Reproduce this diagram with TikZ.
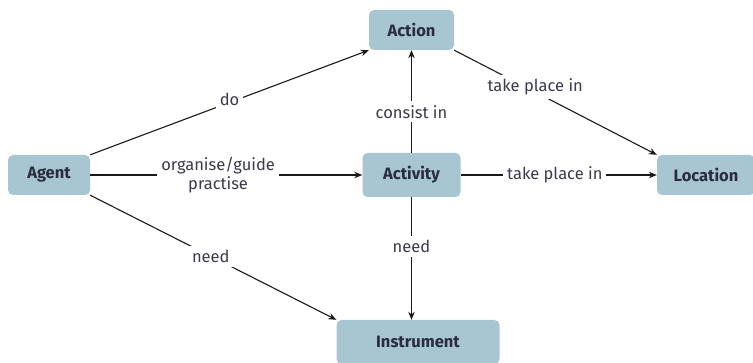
\documentclass[tikz,border=0pt]{standalone}
\usepackage{fontspec}
\setmainfont{Fira Sans}
\usetikzlibrary{arrows.meta}
\definecolor{boxfill}{HTML}{A8C5D2}
\definecolor{boxtext}{HTML}{2A2C40}
\definecolor{lbltext}{HTML}{3A3A4A}
\begin{document}
\begin{tikzpicture}[x=1pt,y=-1pt,
  concept/.style={draw=none,fill=boxfill,rounded corners=5pt,text=boxtext,
    font=\fontsize{16.5}{18}\selectfont\bfseries,inner sep=0pt},
  rel/.style={draw=black!90,line width=1.1pt,-{Stealth[length=8pt,width=6.5pt]}},
  lbl/.style={fill=white,text=lbltext,font=\fontsize{16.5}{19}\selectfont,inner sep=4pt,align=center}]
\useasboundingbox (0,0) rectangle (753,363);
\node[concept,minimum width=82pt,minimum height=40pt] (agent) at (49,175) {Agent};
\node[concept,minimum width=85pt,minimum height=40pt] (action) at (411.5,30) {Action};
\node[concept,minimum width=98pt,minimum height=44pt] (activity) at (411.5,175) {Activity};
\node[concept,minimum width=98pt,minimum height=40pt] (location) at (706,175) {Location};
\node[concept,minimum width=163pt,minimum height=44pt] (instrument) at (418,342) {Instrument};

\draw[rel] (agent.north east) -- node[lbl,pos=0.5,yshift=3pt] {do} (action.south west);
\draw[rel] (agent.east) -- node[lbl,pos=0.47] {organise/guide\\practise} (activity.west);
\draw[rel] (agent.south east) -- node[lbl,pos=0.49] {need} (instrument.north west);
\draw[rel] (activity.north) -- node[lbl,pos=0.4] {consist in} (action.south);
\draw[rel] (activity.south) -- node[lbl,pos=0.4] {need} (instrument.north -| activity.south);
\draw[rel] (activity.east) -- node[lbl,pos=0.48] {take place in} (location.west);
\draw[rel] (action.south east) -- node[lbl,pos=0.4,yshift=5pt] {take place in} (location.north west);
\end{tikzpicture}
\end{document}
